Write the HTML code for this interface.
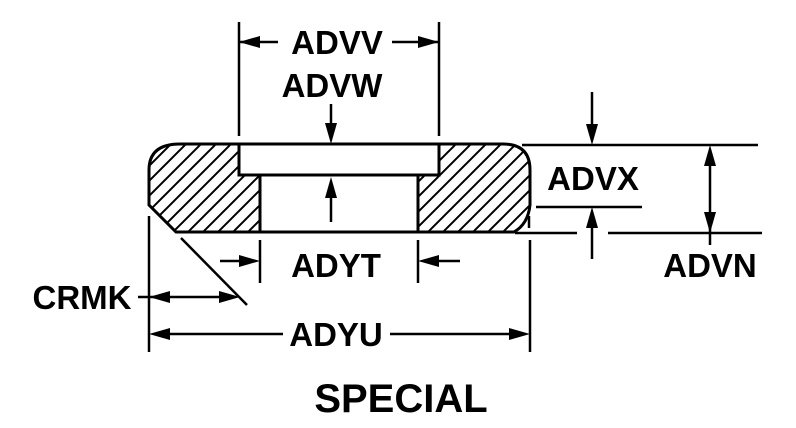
<!DOCTYPE html>
<html><head><style>
html,body{margin:0;padding:0;background:#fff;}
svg{display:block;}
text{font-family:"Liberation Sans",Arial,sans-serif;font-weight:bold;fill:#000;}
</style></head><body>
<svg width="796" height="428" viewBox="0 0 796 428" xmlns="http://www.w3.org/2000/svg">
<defs>
<pattern id="h" patternUnits="userSpaceOnUse" width="15" height="15">
<path d="M-2,17 L17,-2 M-2,2 L2,-2 M13,17 L17,13" stroke="#000" stroke-width="2"/>
</pattern>
</defs>
<g stroke="#000" stroke-width="3" fill="none">
<path d="M180,144 L503,144 Q530,144 530,170 L530,205 Q528,224 514,232 L176,232 L149,205 L149,170 Q149,144 180,144 Z" fill="url(#h)"/>
<rect x="239" y="144" width="200" height="31" fill="#fff"/>
<rect x="260" y="175" width="158" height="57" fill="#fff"/>
</g>
<g stroke="#000" stroke-width="2.5" fill="none">
<line x1="239" y1="22" x2="239" y2="136"/>
<line x1="439" y1="22" x2="439" y2="136"/>
<line x1="239" y1="42" x2="278" y2="42"/>
<line x1="392" y1="42" x2="439" y2="42"/>
<line x1="331" y1="104" x2="331" y2="130"/>
<line x1="331" y1="190" x2="331" y2="222"/>
<line x1="522" y1="145" x2="758" y2="145"/>
<line x1="536" y1="207" x2="642" y2="207"/>
<line x1="515" y1="233" x2="577" y2="233"/>
<line x1="608" y1="233" x2="762" y2="233"/>
<line x1="592" y1="92" x2="592" y2="130"/>
<line x1="592" y1="222" x2="592" y2="259"/>
<line x1="710" y1="160" x2="710" y2="245"/>
<line x1="529" y1="216" x2="529" y2="228"/>
<line x1="260" y1="240" x2="260" y2="283"/>
<line x1="418" y1="240" x2="418" y2="283"/>
<line x1="220" y1="261" x2="246" y2="261"/>
<line x1="432" y1="261" x2="460" y2="261"/>
<line x1="149" y1="216" x2="149" y2="352"/>
<line x1="530" y1="240" x2="530" y2="352"/>
<line x1="160" y1="334" x2="283" y2="334"/>
<line x1="390" y1="334" x2="518" y2="334"/>
<line x1="138" y1="297" x2="230" y2="297"/>
<line x1="181" y1="238" x2="247" y2="305"/>
</g>
<g fill="#000">
<path d="M239,42 L260,36 L260,48 Z"/>
<path d="M439,42 L418,36 L418,48 Z"/>
<path d="M331,144 L325,123 L337,123 Z"/>
<path d="M331,177 L325,198 L337,198 Z"/>
<path d="M592,145 L586,124 L598,124 Z"/>
<path d="M592,207 L586,228 L598,228 Z"/>
<path d="M710,145 L704,166 L716,166 Z"/>
<path d="M710,233 L704,212 L716,212 Z"/>
<path d="M260,261 L239,255 L239,267 Z"/>
<path d="M418,261 L439,255 L439,267 Z"/>
<path d="M149,334 L170,328 L170,340 Z"/>
<path d="M530,334 L509,328 L509,340 Z"/>
<path d="M149,297 L170,291 L170,303 Z"/>
<path d="M240,297 L219,291 L219,303 Z"/>
</g>
<g font-size="33">
<text x="337" y="54" text-anchor="middle">ADVV</text>
<text x="332" y="97" text-anchor="middle">ADVW</text>
<text x="593" y="190" text-anchor="middle">ADVX</text>
<text x="710" y="277" text-anchor="middle">ADVN</text>
<text x="336" y="277" text-anchor="middle">ADYT</text>
<text x="82" y="309" text-anchor="middle">CRMK</text>
<text x="336" y="346" text-anchor="middle">ADYU</text>
<text x="401" y="412" text-anchor="middle" font-size="40">SPECIAL</text>
</g>
</svg>
</body></html>
